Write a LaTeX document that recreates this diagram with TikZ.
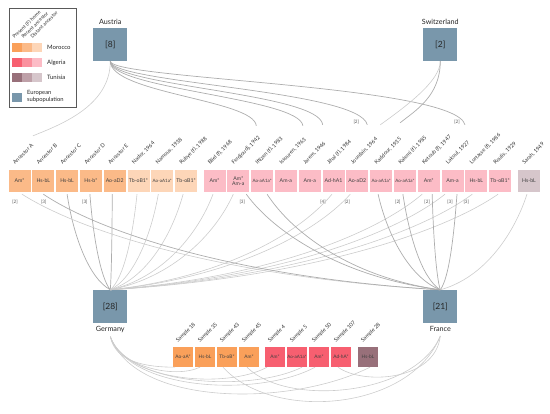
\documentclass[tikz,border=0pt]{standalone}
\usepackage{fontspec}
\setmainfont{Lato}
\definecolor{eublue}{RGB}{121,151,171}
\definecolor{morP}{RGB}{250,160,90}
\definecolor{morR}{RGB}{251,186,136}
\definecolor{morD}{RGB}{253,214,184}
\definecolor{algP}{RGB}{247,95,112}
\definecolor{algR}{RGB}{250,145,158}
\definecolor{algD}{RGB}{252,188,198}
\definecolor{tunP}{RGB}{152,112,122}
\definecolor{tunR}{RGB}{190,160,168}
\definecolor{tunD}{RGB}{214,198,203}
\begin{document}
\begin{tikzpicture}[x=1pt,y=1pt]
		\tikzstyle{every node}+=[inner sep=0pt]
		\tikzstyle{eubox}=[fill=eublue, minimum width=34pt, minimum height=33pt, font=\fontsize{8.5}{9}\selectfont, text=black!85]
		\tikzstyle{horse}=[minimum size=22pt, font=\fontsize{5.2}{5.8}\selectfont, text=black!75, align=center]
		\tikzstyle{sample}=[minimum size=20pt, font=\fontsize{4.8}{5.5}\selectfont, text=black!75]
		\tikzstyle{tight}=[font=\fontsize{4.5}{5}\selectfont]
		\tikzstyle{tag}=[rotate=45, anchor=base west, font=\fontsize{5.4}{6}\selectfont, text=black!80]
		\tikzstyle{cnt}=[font=\fontsize{4.6}{5}\selectfont, text=black!65]
		\tikzstyle{country}=[font=\fontsize{7.2}{8}\selectfont, text=black!85]
		\tikzstyle{legtext}=[anchor=west, font=\fontsize{6}{7.7}\selectfont, text=black!85, align=left]
		\tikzstyle{link}=[draw=black!20, line width=0.6pt]
		\tikzstyle{linkd}=[draw=black!32, line width=0.7pt]
		\useasboundingbox (0,0) rectangle (550,-414);
		% legend
		\draw [black!65, line width=0.8pt] (9,-8) rectangle (76,-107);
		\node [tag, font=\fontsize{5}{6}\selectfont] (lpres) at (14.5,-39) {Present (F) home};
		\node [tag, font=\fontsize{5}{6}\selectfont] (lrec) at (23.5,-39) {Recent ancestor};
		\node [tag, font=\fontsize{5}{6}\selectfont] (ldist) at (32.5,-39) {Distant ancestor};
		\fill [morP] (12,-43) rectangle (22,-52.5);
		\fill [morR] (22,-43) rectangle (32,-52.5);
		\fill [morD] (32,-43) rectangle (42,-52.5);
		\fill [algP] (12,-58) rectangle (22,-67.5);
		\fill [algR] (22,-58) rectangle (32,-67.5);
		\fill [algD] (32,-58) rectangle (42,-67.5);
		\fill [tunP] (12,-73) rectangle (22,-82.5);
		\fill [tunR] (22,-73) rectangle (32,-82.5);
		\fill [tunD] (32,-73) rectangle (42,-82.5);
		\fill [eublue] (12,-93) rectangle (22,-102.5);
		\node [legtext] (lmor) at (47,-47.5) {Morocco};
		\node [legtext] (lalg) at (47,-62.5) {Algeria};
		\node [legtext] (ltun) at (47,-77.5) {Tunisia};
		\node [legtext, font=\fontsize{5.8}{7.7}\selectfont] (leu) at (27,-96.5) {European\\subpopulation};
		% european subpopulations
		\node [eubox] (aut) at (110.3,-44.5) {[8]};
		\node [country] (autl) at ([yshift=6pt]aut.north) {Austria};
		\node [eubox] (swi) at (440.3,-44.5) {[2]};
		\node [country] (swil) at ([yshift=6pt]swi.north) {Switzerland};
		\node [eubox] (ger) at (110.3,-306.5) {[28]};
		\node [country] (gerl) at ([yshift=-6pt]ger.south) {Germany};
		\node [eubox] (fra) at (440.3,-306.5) {[21]};
		\node [country] (fral) at ([yshift=-6pt]fra.south) {France};
		% ancestors
		\node [horse, fill=morR] (ancA) at (19.5,-181) {Am*};
		\node [horse, fill=morR] (ancB) at (43.3,-181) {Hs-bL};
		\node [horse, fill=morR] (ancC) at (67.1,-181) {Hs-bL};
		\node [horse, fill=morR] (ancD) at (90.9,-181) {Hs-b*};
		\node [horse, fill=morR] (ancE) at (114.7,-181) {Ao-aD2};
		\node [horse, fill=morD] (nador) at (138.5,-181) {Tb-oB1*};
		\node [horse, fill=morD, tight] (namous) at (162.3,-181) {Ao-aA1a*};
		\node [horse, fill=morD] (rubye) at (186.1,-181) {Tb-oB1*};
		\node [horse, fill=algD] (bliel) at (214.5,-181) {Am*};
		\node [horse, fill=algD] (ferd) at (238.3,-181) {Am*\\Am-a};
		\node [horse, fill=algD, tight] (ift) at (262.1,-181) {Ao-aA1a*};
		\node [horse, fill=algD] (issou) at (285.9,-181) {Am-a};
		\node [horse, fill=algD] (jarem) at (309.7,-181) {Am-a};
		\node [horse, fill=algD] (jihal) at (333.5,-181) {Ad-hA1};
		\node [horse, fill=algD] (jourd) at (357.3,-181) {Ao-aD2};
		\node [horse, fill=algD, tight] (kadd) at (381.1,-181) {Ao-aA1a*};
		\node [horse, fill=algD, tight] (kal) at (404.9,-181) {Ao-aA1a*};
		\node [horse, fill=algD] (ket) at (428.7,-181) {Am*};
		\node [horse, fill=algD] (lak) at (452.5,-181) {Am-a};
		\node [horse, fill=algD] (lort) at (476.3,-181) {Hs-bL};
		\node [horse, fill=algD] (roul) at (500.1,-181) {Tb-oB1*};
		\node [horse, fill=tunD] (sarah) at (529,-181) {Hs-bL};
		\node [tag] (tancA) at ([xshift=-4.5pt,yshift=5pt]ancA.north) {Ancestor A};
		\node [tag] (tancB) at ([xshift=-4.5pt,yshift=5pt]ancB.north) {Ancestor B};
		\node [tag] (tancC) at ([xshift=-4.5pt,yshift=5pt]ancC.north) {Ancestor C};
		\node [tag] (tancD) at ([xshift=-4.5pt,yshift=5pt]ancD.north) {Ancestor D};
		\node [tag] (tancE) at ([xshift=-4.5pt,yshift=5pt]ancE.north) {Ancestor E};
		\node [tag] (tnador) at ([xshift=-4.5pt,yshift=5pt]nador.north) {Nador, 1964};
		\node [tag] (tnamous) at ([xshift=-4.5pt,yshift=5pt]namous.north) {Namous, 1938};
		\node [tag] (trubye) at ([xshift=-4.5pt,yshift=5pt]rubye.north) {Rubye (f), 1988};
		\node [tag] (tbliel) at ([xshift=-4.5pt,yshift=5pt]bliel.north) {Bliel (f), 1968};
		\node [tag] (tferd) at ([xshift=-4.5pt,yshift=5pt]ferd.north) {Ferdjoudj, 1942};
		\node [tag] (tift) at ([xshift=-4.5pt,yshift=5pt]ift.north) {Iftizen (f), 1983};
		\node [tag] (tissou) at ([xshift=-4.5pt,yshift=5pt]issou.north) {Issouren, 1963};
		\node [tag] (tjarem) at ([xshift=-4.5pt,yshift=5pt]jarem.north) {Jarem, 1946};
		\node [tag] (tjihal) at ([xshift=-4.5pt,yshift=5pt]jihal.north) {Jihal (f), 1984};
		\node [tag] (tjourd) at ([xshift=-4.5pt,yshift=5pt]jourd.north) {Jourdain, 1964};
		\node [tag] (tkadd) at ([xshift=-4.5pt,yshift=5pt]kadd.north) {Kaddour, 1935};
		\node [tag] (tkal) at ([xshift=-4.5pt,yshift=5pt]kal.north) {Kalemi (f), 1985};
		\node [tag] (tket) at ([xshift=-4.5pt,yshift=5pt]ket.north) {Ketoub (f), 1947};
		\node [tag] (tlak) at ([xshift=-4.5pt,yshift=5pt]lak.north) {Lakoul, 1927};
		\node [tag] (tlort) at ([xshift=-4.5pt,yshift=5pt]lort.north) {Lortasse (f), 1986};
		\node [tag] (troul) at ([xshift=-4.5pt,yshift=5pt]roul.north) {Roulis, 1929};
		\node [tag] (tsarah) at ([xshift=-4.5pt,yshift=5pt]sarah.north) {Sarah, 1949};
		% counts under the ancestors
		\node [cnt] (cancA) at ([xshift=-4.5pt,yshift=-9.5pt]ancA.south) {[2]};
		\node [cnt] (cancB) at ([xshift=0.5pt,yshift=-9.5pt]ancB.south) {[3]};
		\node [cnt] (cancD) at ([xshift=-6pt,yshift=-9.5pt]ancD.south) {[3]};
		\node [cnt] (cferd) at ([xshift=4pt,yshift=-9.5pt]ferd.south) {[3]};
		\node [cnt] (cjihal) at ([xshift=-10.5pt,yshift=-9.5pt]jihal.south) {[4]};
		\node [cnt] (cjourd) at ([xshift=-10pt,yshift=-9.5pt]jourd.south) {[2]};
		\node [cnt] (ckal) at ([xshift=-7pt,yshift=-9.5pt]kal.south) {[2]};
		\node [cnt] (cket) at ([xshift=-1.5pt,yshift=-9.5pt]ket.south) {[2]};
		\node [cnt] (clak) at ([xshift=-2.5pt,yshift=-9.5pt]lak.south) {[3]};
		\node [cnt] (clort) at ([xshift=-10pt,yshift=-9.5pt]lort.south) {[3]};
		\node [cnt] (cajourd) at ([shift={(-1,48)}]jourd.north) {[2]};
		\node [cnt] (calak) at ([shift={(4.5,48)}]lak.north) {[2]};
		% present horses
		\node [sample, fill=morP] (s18) at (183,-357) {Ao-aA*};
		\node [sample, fill=morP] (s35) at (205,-357) {Hs-bL};
		\node [sample, fill=morP] (s43) at (227,-357) {Tb-oB*};
		\node [sample, fill=morP] (s45) at (249,-357) {Am*};
		\node [sample, fill=algP] (s4) at (275,-357) {Am*};
		\node [sample, fill=algP, tight] (s5) at (297,-357) {Ao-aA1a*};
		\node [sample, fill=algP] (s50) at (319,-357) {Am*};
		\node [sample, fill=algP] (s107) at (341,-357) {Ad-hA*};
		\node [sample, fill=tunP] (s28) at (368,-357) {Hs-bL};
		\node [tag] (ts18) at ([xshift=-5pt,yshift=4pt]s18.north) {Sample 18};
		\node [tag] (ts35) at ([xshift=-5pt,yshift=4pt]s35.north) {Sample 35};
		\node [tag] (ts43) at ([xshift=-5pt,yshift=4pt]s43.north) {Sample 43};
		\node [tag] (ts45) at ([xshift=-5pt,yshift=4pt]s45.north) {Sample 45};
		\node [tag] (ts4) at ([xshift=-5pt,yshift=4pt]s4.north) {Sample 4};
		\node [tag] (ts5) at ([xshift=-5pt,yshift=4pt]s5.north) {Sample 5};
		\node [tag] (ts50) at ([xshift=-5pt,yshift=4pt]s50.north) {Sample 50};
		\node [tag] (ts107) at ([xshift=-5pt,yshift=4pt]s107.north) {Sample 107};
		\node [tag] (ts28) at ([xshift=-5pt,yshift=4pt]s28.north) {Sample 28};
		% Austria and Switzerland
		\draw [link] (aut.south) .. controls +(0,-45) and +(27,11) .. ([shift={(13.5,34)}]ancA.north);
		\draw [linkd] (aut.south) .. controls +(0,-32) and +(-2,26) .. ([shift={(18,44)}]ferd.north);
		\draw [linkd] (aut.south) .. controls +(0,-28) and +(-3,28) .. ([shift={(17,44)}]issou.north);
		\draw [linkd] (aut.south) .. controls +(0,-25) and +(-3,32) .. ([shift={(13,45)}]jarem.north);
		\draw [linkd] (aut.south) .. controls +(0,-22) and +(-8,35) .. ([shift={(10,45)}]jourd.north);
		\draw [linkd] (aut.south) .. controls +(0,-18) and +(-10,40) .. ([shift={(12.5,45)}]lak.north);
		\draw [link] (swi.south) .. controls +(0,-20) and +(25,18) .. ([shift={(23,45)}]jourd.north);
		\draw [linkd] (swi.south) .. controls +(0,-35) and +(15,12) .. ([shift={(19,47)}]kadd.north);
		% ancestors to Germany
		\draw [linkd] ([yshift=-2pt]ancC.south) .. controls +(6,-40) and +(-22,12) .. (ger.north);
		\draw [linkd] ([xshift=-1pt,yshift=-2pt]ancD.south) .. controls +(3,-40) and +(-10,12) .. (ger.north);
		\draw [linkd] ([xshift=-2.5pt,yshift=-2pt]ancE.south) .. controls +(0,-40) and +(1,12) .. (ger.north);
		\draw [link] ([xshift=-1.5pt,yshift=-2pt]nador.south) .. controls +(-4,-40) and +(14,12) .. (ger.north);
		\draw [link] ([xshift=-4pt,yshift=-2pt]namous.south) .. controls +(-7,-40) and +(24,12) .. (ger.north);
		\draw [link] ([xshift=-3pt,yshift=-2pt]rubye.south) .. controls +(-11,-40) and +(37,12) .. (ger.north);
		\draw [link] ([xshift=-1.5pt,yshift=-2pt]bliel.south) .. controls +(-15,-40) and +(52,12) .. (ger.north);
		\draw [link] ([xshift=-5pt,yshift=-2pt]ferd.south) .. controls +(-18,-40) and +(62,12) .. (ger.north);
		\draw [link] ([xshift=-1.5pt,yshift=-2pt]jihal.south) .. controls +(-33,-40) and +(111,12) .. (ger.north);
		\draw [link] ([xshift=-7pt,yshift=-2pt]jourd.south) .. controls +(-36,-40) and +(120,12) .. (ger.north);
		\draw [link] ([xshift=-6.5pt,yshift=-2pt]ket.south) .. controls +(-47,-40) and +(156,12) .. (ger.north);
		\draw [link] ([xshift=-7.5pt,yshift=-2pt]lak.south) .. controls +(-50,-40) and +(168,12) .. (ger.north);
		\draw [link] ([xshift=-4pt,yshift=-2pt]lort.south) .. controls +(-54,-40) and +(181,12) .. (ger.north);
		\draw [link] ([xshift=-2pt,yshift=-2pt]roul.south) .. controls +(-58,-40) and +(194,12) .. (ger.north);
		% ancestors to France
		\draw [link] ([xshift=2.5pt,yshift=-2pt]ancA.south) .. controls +(63,-40) and +(-209,12) .. (fra.north);
		\draw [linkd] ([yshift=-2pt]ancB.south) .. controls +(60,-40) and +(-199,12) .. (fra.north);
		\draw [linkd] ([xshift=8pt,yshift=-2pt]ferd.south) .. controls +(29,-40) and +(-95,12) .. (fra.north);
		\draw [linkd] ([xshift=5pt,yshift=-2pt]ift.south) .. controls +(26,-40) and +(-87,12) .. (fra.north);
		\draw [linkd] ([xshift=-3pt,yshift=-2pt]kadd.south) .. controls +(9,-40) and +(-31,12) .. (fra.north);
		\draw [linkd] ([xshift=-2pt,yshift=-2pt]kal.south) .. controls +(6,-40) and +(-19,12) .. (fra.north);
		\draw [linkd] ([xshift=3.5pt,yshift=-2pt]ket.south) .. controls +(1,-40) and +(-4,12) .. (fra.north);
		\draw [linkd] ([xshift=4.5pt,yshift=-2pt]lak.south) .. controls +(-3,-40) and +(9,12) .. (fra.north);
		\draw [link] ([xshift=-2pt,yshift=-2pt]sarah.south) .. controls +(-13,-40) and +(44,12) .. (fra.north);
		% Germany and France to present horses
		\draw [link] ([yshift=-4pt]gerl.south) .. controls +(5,-25) and +(-30,0) .. ([xshift=-8pt]s18.south);
		\draw [link] ([yshift=-4pt]gerl.south) .. controls +(8,-30) and +(-25,-12) .. ([xshift=-5pt]s35.south);
		\draw [link] ([yshift=-4pt]gerl.south) .. controls +(15,-45) and +(-40,-22) .. ([xshift=-8pt]s4.south);
		\draw [link] ([yshift=-4pt]gerl.south) .. controls +(18,-50) and +(-50,-25) .. ([xshift=5pt]s5.south);
		\draw [link] ([yshift=-4pt]gerl.south) .. controls +(20,-55) and +(-55,-30) .. ([xshift=-4pt]s50.south);
		\draw [link] ([yshift=-4pt]gerl.south) .. controls +(25,-70) and +(-80,-40) .. ([xshift=2pt]s28.south);
		\draw [link] ([yshift=-4pt]fral.south) .. controls +(-30,-75) and +(50,-55) .. ([xshift=-4pt]s43.south);
		\draw [link] ([yshift=-4pt]fral.south) .. controls +(-25,-60) and +(40,-40) .. ([xshift=-2pt]s45.south);
		\draw [link] ([yshift=-4pt]fral.south) .. controls +(-5,-45) and +(25,-18) .. ([xshift=-3pt]s107.south);
\end{tikzpicture}
\end{document}
